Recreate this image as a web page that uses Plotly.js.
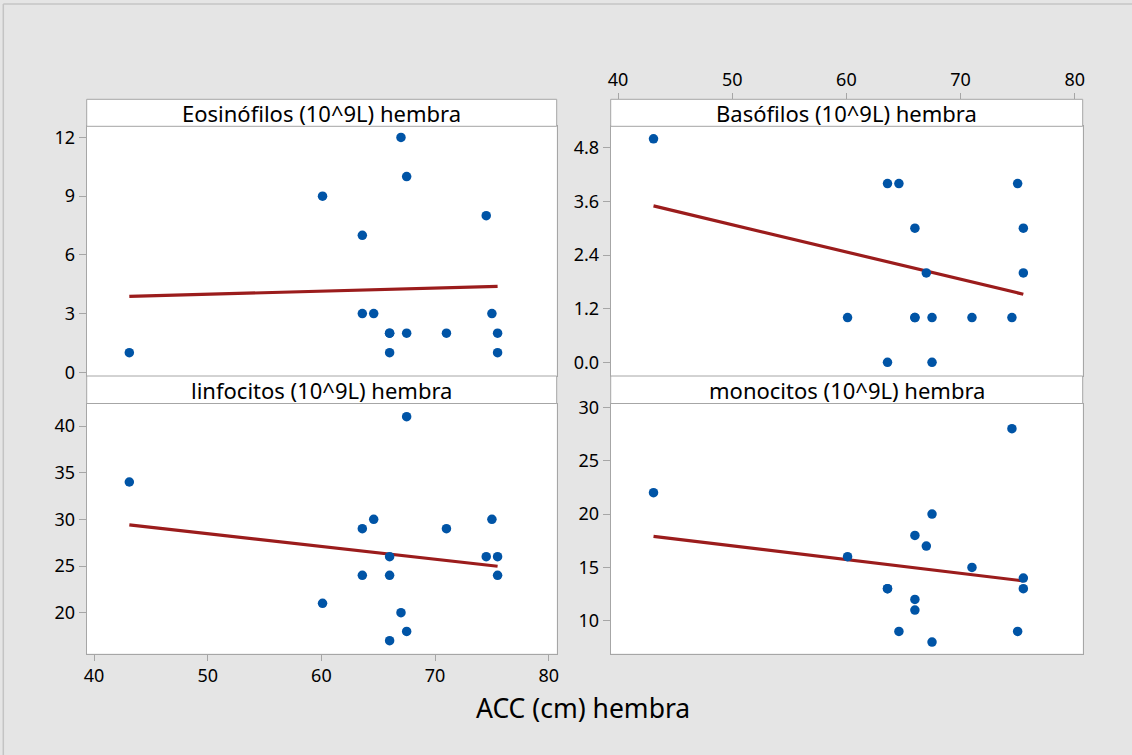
<!DOCTYPE html>
<html>
<head>
<meta charset="utf-8">
<script src="https://cdn.plot.ly/plotly-3.0.1.min.js"></script>
<style>html,body{margin:0;padding:0;background:#e5e5e5;}#chart{width:1132px;height:755px;}</style>
</head>
<body>
<div id="chart"></div>
<script>
// ---- data ----
const acc        = [43.1, 60.1, 63.6, 63.6, 64.6, 66.0, 66.0, 66.0, 67.0, 67.5, 67.5, 71.0, 74.5, 75.0, 75.5, 75.5];
const eosinofilos = [1, 9, 7, 3, 3, 2, 1, 2, 12, 10, 2, 2, 8, 3, 2, 1];
const basofilos   = [5, 1, 4, 0, 4, 3, 1, 1, 2, 1, 0, 1, 1, 4, 3, 2];
const linfocitos  = [34, 21, 29, 24, 30, 26, 24, 17, 20, 41, 18, 29, 26, 30, 26, 24];
const monocitos   = [22, 16, 13, 13, 9, 18, 12, 11, 17, 20, 8, 15, 28, 9, 14, 13];
const panelTitles = ["Eosinófilos (10^9L) hembra", "Basófilos (10^9L) hembra",
                     "linfocitos (10^9L) hembra", "monocitos (10^9L) hembra"];
const xTitle = "ACC (cm) hembra";
const xTicks = [40, 50, 60, 70, 80];
const eosTicks = [0, 3, 6, 9, 12];
const basTicks = [0, 1.2, 2.4, 3.6, 4.8];
const linTicks = [20, 25, 30, 35, 40];
const monTicks = [10, 15, 20, 25, 30];

// ---- least squares fit ----
function fit(x, y) {
  const n = x.length;
  const mx = x.reduce((a, b) => a + b, 0) / n;
  const my = y.reduce((a, b) => a + b, 0) / n;
  let sxy = 0, sxx = 0;
  for (let i = 0; i < n; i++) { sxy += (x[i] - mx) * (y[i] - my); sxx += (x[i] - mx) ** 2; }
  const b = sxy / sxx, a = my - b * mx;
  const x0 = Math.min(...x), x1 = Math.max(...x);
  return { x: [x0, x1], y: [a + b * x0, a + b * x1] };
}

const W = 1132, H = 755;
const px = v => v / W;
const py = v => 1 - v / H;

const FONT = "Noto Sans, Open Sans, sans-serif";
const blue = "#0054a6";
const red = "#9b1c1c";
const frame = "#a6a6a6";
const TICKFONT = { family: FONT, size: 18, color: "#000" };

const series = [eosinofilos, basofilos, linfocitos, monocitos];
const traces = [];
series.forEach((ys, i) => {
  const xa = i === 0 ? "x" : "x" + (i + 1);
  const ya = i === 0 ? "y" : "y" + (i + 1);
  const f = fit(acc, ys);
  traces.push({ x: f.x, y: f.y, xaxis: xa, yaxis: ya, mode: "lines", type: "scatter",
    line: { color: red, width: 3.2 }, hoverinfo: "skip", showlegend: false });
  traces.push({ x: acc, y: ys, xaxis: xa, yaxis: ya, mode: "markers", type: "scatter",
    marker: { color: blue, size: 9.5 }, showlegend: false });
});

// panel geometry (pixels)
const L = [86.7, 556.7], R = [610.7, 1082.7];
const T = [126.3, 376], B = [403.5, 653.5];
const stripTop = 99.3, stripBot = 376;

const xr = [39.35, 80.7];
function xax(domain, extra) {
  return Object.assign({ domain: domain, range: xr, showline: true, mirror: true, linecolor: frame,
    linewidth: 1, showgrid: false, zeroline: false, showticklabels: false, ticks: "", fixedrange: true }, extra || {});
}
function yax(domain, range, tickvals, extra) {
  return Object.assign({ domain: domain, range: range, tickvals: tickvals, showline: true, mirror: true,
    linecolor: frame, linewidth: 1, showgrid: false, zeroline: false, ticks: "outside", ticklen: 7,
    tickcolor: frame, tickfont: TICKFONT, fixedrange: true }, extra || {});
}

const layout = {
  width: W, height: H,
  margin: { l: 0, r: 0, t: 0, b: 0 },
  paper_bgcolor: "#e5e5e5",
  plot_bgcolor: "#ffffff",
  showlegend: false,
  xaxis: xax([px(L[0]), px(L[1])], { anchor: "y" }),
  yaxis: yax([py(T[1]), py(T[0])], [-0.19, 12.57], eosTicks, { anchor: "x" }),
  xaxis2: xax([px(R[0]), px(R[1])], { anchor: "y2" }),
  yaxis2: yax([py(T[1]), py(T[0])], [-0.306, 5.28], basTicks, { anchor: "x2", tickformat: ".1f" }),
  xaxis3: xax([px(L[0]), px(L[1])], { anchor: "y3", showticklabels: true, ticks: "outside", ticklen: 6,
    tickcolor: frame, tickvals: xTicks, tickfont: TICKFONT }),
  yaxis3: yax([py(B[1]), py(B[0])], [15.63, 42.41], linTicks, { anchor: "x3" }),
  xaxis4: xax([px(R[0]), px(R[1])], { anchor: "y4" }),
  yaxis4: yax([py(B[1]), py(B[0])], [6.93, 30.36], monTicks, { anchor: "x4" }),
  // top axis for the upper-right panel, sitting above its strip
  xaxis5: { overlaying: "x2", anchor: "free", position: py(stripTop), side: "top", range: xr,
    showline: false, showgrid: false, zeroline: false, ticks: "outside", ticklen: 6, tickcolor: frame,
    tickvals: xTicks, tickfont: TICKFONT, fixedrange: true },
  shapes: [],
  annotations: []
};
// dummy trace to activate xaxis5
traces.push({ x: [xr[0]], y: [0], xaxis: "x5", yaxis: "y2", mode: "markers",
  marker: { opacity: 0 }, hoverinfo: "skip", showlegend: false });

// strips
const strips = [[L, stripTop, T[0]], [R, stripTop, T[0]], [L, stripBot, B[0]], [R, stripBot, B[0]]];
strips.forEach((s, i) => {
  layout.shapes.push({ type: "rect", xref: "paper", yref: "paper",
    x0: px(s[0][0]), x1: px(s[0][1]), y0: py(s[2]), y1: py(s[1]),
    fillcolor: "#ffffff", line: { color: frame, width: 1 }, layer: "above" });
  layout.annotations.push({ xref: "paper", yref: "paper", x: px((s[0][0] + s[0][1]) / 2),
    y: py((s[1] + s[2]) / 2), text: panelTitles[i], showarrow: false, xanchor: "center", yanchor: "middle",
    font: { family: FONT, size: 22, color: "#000" } });
});
// outer frame lines (top & left)
layout.shapes.push({ type: "line", xref: "paper", yref: "paper", x0: px(3.3), x1: 1, y0: py(4), y1: py(4),
  line: { color: "#c4c4c4", width: 1.5 } });
layout.shapes.push({ type: "line", xref: "paper", yref: "paper", x0: px(3.3), x1: px(3.3), y0: 0, y1: py(4),
  line: { color: "#c4c4c4", width: 1.5 } });
// x title
layout.annotations.push({ xref: "paper", yref: "paper", x: px(583), y: py(708), text: xTitle,
  showarrow: false, xanchor: "center", yanchor: "middle", font: { family: FONT, size: 26.5, color: "#000" } });

Plotly.newPlot("chart", traces, layout, { displayModeBar: false, staticPlot: true });
</script>
</body>
</html>
